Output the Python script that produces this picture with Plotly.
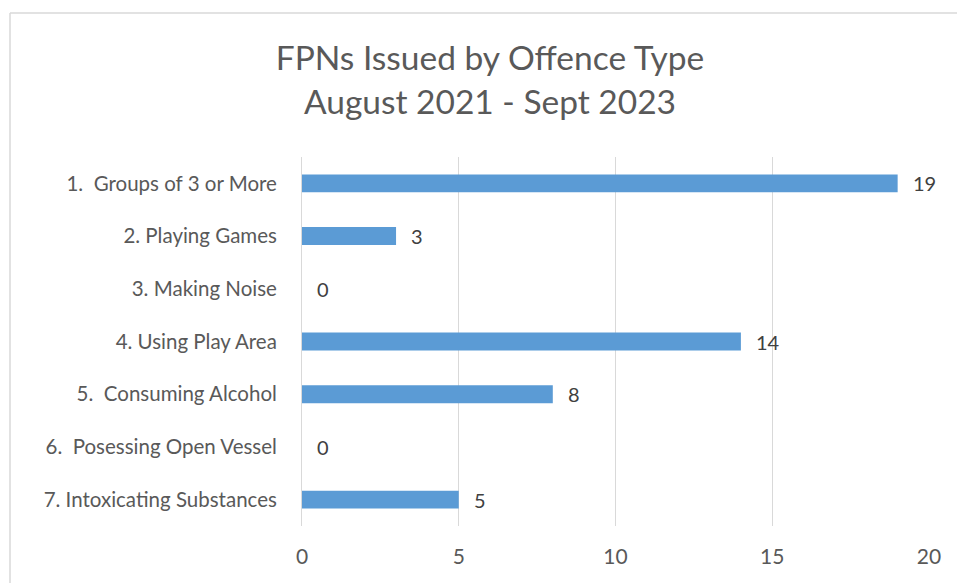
import plotly.graph_objects as go

categories = ["1.  Groups of 3 or More", "2. Playing Games", "3. Making Noise",
              "4. Using Play Area", "5.  Consuming Alcohol", "6.  Posessing Open Vessel",
              "7. Intoxicating Substances"]
values = [19, 3, 0, 14, 8, 0, 5]
x_ticks = [0, 5, 10, 15, 20]

FONT = "Lato"
W, H = 957, 583
L, T = 302, 157
R = W - 929
B = H - 526
pw, ph = W - L - R, H - T - B

fig = go.Figure(go.Bar(
    y=categories, x=values, orientation="h",
    marker=dict(color="#5B9BD5", line=dict(width=0)),
    width=0.34,
))

for c, v in zip(categories, values):
    fig.add_annotation(x=v, y=c, text=str(v), showarrow=False, xanchor="left",
                       xshift=13, font=dict(family=FONT, size=20, color="#404040"))

fig.update_layout(
    width=W, height=H,
    margin=dict(l=L, r=R, t=T, b=B),
    paper_bgcolor="white", plot_bgcolor="white",
    title=dict(text="FPNs Issued by Offence Type<br>August 2021 - Sept 2023",
               x=490 / W, xanchor="center", y=1 - 70 / H, yanchor="middle",
               font=dict(family=FONT, size=33.5, color="#595959")),
    showlegend=False,
    xaxis=dict(range=[0, 20], tickvals=x_ticks, showgrid=True, gridcolor="#d9d9d9",
               gridwidth=1, zeroline=False, showline=False, ticks="",
               tickfont=dict(family=FONT, size=21, color="#595959"), ticklabelstandoff=16),
    yaxis=dict(autorange="reversed", showline=True, linecolor="#d9d9d9", linewidth=1,
               ticks="", showgrid=False, tickfont=dict(family=FONT, size=20.5, color="#595959"),
               ticklabelstandoff=20),
)

bx = (10 - L) / pw
by = (H - B - 13) / ph
fig.add_shape(type="line", xref="paper", yref="paper", x0=bx, x1=bx, y0=-0.4, y1=by,
              line=dict(color="#d9d9d9", width=1.5), layer="below")
fig.add_shape(type="line", xref="paper", yref="paper", x0=bx, x1=1.2, y0=by, y1=by,
              line=dict(color="#d9d9d9", width=1.5), layer="below")

fig.write_html("out.html", config={"displayModeBar": False},
               post_script="document.body.style.margin='0';"
                           "document.documentElement.style.overflow='hidden';"
                           "document.body.style.overflow='hidden';")
